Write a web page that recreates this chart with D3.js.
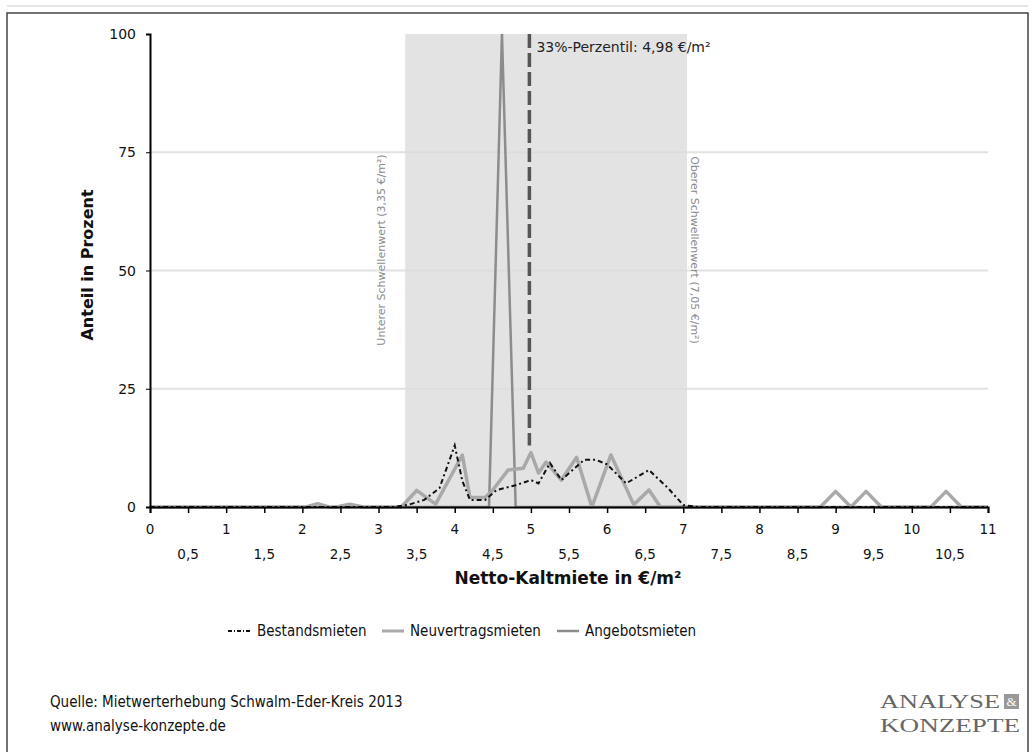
<!DOCTYPE html>
<html><head><meta charset="utf-8">
<script src="https://cdn.jsdelivr.net/npm/d3@7"></script>
<style>
body{margin:0;background:#fff;}
svg{display:block;font-family:"DejaVu Sans",Verdana,sans-serif;}
</style></head>
<body><svg id="c" width="1035" height="752"></svg>
<script>
// ---- data ----
const bestandX = [0, 3.2, 3.4, 3.6, 3.8, 3.9, 4.0, 4.1, 4.2, 4.4, 4.55, 4.8, 5.0, 5.1, 5.25, 5.4, 5.7, 5.85, 6.0, 6.25, 6.55, 6.8, 7.0, 7.2, 11];
const bestandY = [0, 0, 0.5, 1.5, 4, 8.5, 13, 5.5, 1.5, 1.5, 3.6, 4.6, 5.7, 5, 9.3, 5.7, 10, 10, 9, 5, 7.8, 4, 0.4, 0, 0];
const neuX = [0, 2.05, 2.2, 2.35, 2.45, 2.62, 2.8, 3.3, 3.5, 3.75, 4.1, 4.2, 4.4, 4.5, 4.7, 4.9, 5.0, 5.1, 5.2, 5.4, 5.6, 5.8, 6.05, 6.35, 6.55, 6.7, 8.8, 9.0, 9.2, 9.4, 9.6, 10.25, 10.45, 10.65, 11];
const neuY = [0, 0, 0.7, 0, 0, 0.6, 0, 0, 3.5, 0.6, 11, 2, 2, 3.6, 7.8, 8.2, 11.5, 7.2, 9.5, 5.7, 10.5, 0, 11, 0.5, 3.6, 0, 0, 3.3, 0, 3.3, 0, 0, 3.3, 0, 0];
const angebotX = [0, 4.45, 4.62, 4.8, 11];
const angebotY = [0, 0, 100, 0, 0];
const yTicks = [0, 25, 50, 75, 100];
const xTicks = [0,0.5,1,1.5,2,2.5,3,3.5,4,4.5,5,5.5,6,6.5,7,7.5,8,8.5,9,9.5,10,10.5,11];
const bandLow = 3.35, bandHigh = 7.05;
const percentile = 4.98, percentileEnd = 13;
const seriesNames = ["Bestandsmieten", "Neuvertragsmieten", "Angebotsmieten"];

// ---- chart ----
const svg = d3.select("#c");
const x = d3.scaleLinear().domain([0, 11]).range([150, 988]);
const y = d3.scaleLinear().domain([0, 100]).range([507, 34]);

// frame
svg.append("path").attr("d","M7,752 V13 H1028 V752").attr("fill","none").attr("stroke","#444").attr("stroke-width",1.5);
svg.append("line").attr("x1",7).attr("x2",1028).attr("y1",6).attr("y2",6).attr("stroke","#ccc").attr("stroke-width",1);

// gridlines
svg.append("g").selectAll("line").data(yTicks.filter(d=>d>0 && d<100)).join("line")
  .attr("x1", x(0)).attr("x2", x(11)).attr("y1", d=>y(d)).attr("y2", d=>y(d))
  .attr("stroke","#e2e2e2").attr("stroke-width",2);

// band
svg.append("rect").attr("x", x(bandLow)).attr("width", x(bandHigh)-x(bandLow))
  .attr("y", y(100)).attr("height", y(0)-y(100)).attr("fill","#dcdcdc").attr("opacity",0.8);

// band labels
svg.append("text").attr("transform",`translate(${x(bandLow)-20},250) rotate(-90)`)
  .attr("text-anchor","middle").attr("font-size",11).attr("fill","#8a8a8a")
  .text("Unterer Schwellenwert (3,35 €/m²)");
svg.append("text").attr("transform",`translate(${x(bandHigh)+4},250) rotate(90)`)
  .attr("text-anchor","middle").attr("font-size",11).attr("fill","#8a8a8a")
  .text("Oberer Schwellenwert (7,05 €/m²)");

// series
const line = d3.line().x(d=>x(d[0])).y(d=>y(d[1]));
const zip = (a,b)=>a.map((v,i)=>[v,b[i]]);
svg.append("path").datum(zip(angebotX, angebotY)).attr("d", line)
  .attr("fill","none").attr("stroke","#8c8c8c").attr("stroke-width",2.5);
svg.append("path").datum(zip(neuX, neuY)).attr("d", line)
  .attr("fill","none").attr("stroke","#a9a9a9").attr("stroke-width",3.5).attr("stroke-linejoin","round");
svg.append("path").datum(zip(bestandX, bestandY)).attr("d", line)
  .attr("fill","none").attr("stroke","#111").attr("stroke-width",2).attr("stroke-dasharray","5,3,2,3");

// percentile line
svg.append("line").attr("x1",x(percentile)).attr("x2",x(percentile))
  .attr("y1",y(100)).attr("y2",y(percentileEnd))
  .attr("stroke","#555").attr("stroke-width",3.5).attr("stroke-dasharray","14,5");
svg.append("text").attr("x",x(percentile)+7).attr("y",y(100)+18).attr("font-size",14).attr("fill","#222")
  .text("33%-Perzentil: 4,98 €/m²");

// axes
const gx = svg.append("g").attr("transform",`translate(0,${y(0)})`)
  .call(d3.axisBottom(x).tickValues(xTicks).tickSize(6).tickFormat(""));
gx.select(".domain").attr("stroke","#000").attr("stroke-width",2);
gx.selectAll("line").attr("stroke","#000").attr("stroke-width",1.5);
svg.append("g").selectAll("text").data(xTicks).join("text")
  .attr("x", d=>x(d)).attr("y", d=> Number.isInteger(d) ? 534 : 559)
  .attr("text-anchor","middle").attr("font-size",13.5).attr("fill","#111")
  .text(d=>String(d).replace(".",","));

const gy = svg.append("g").attr("transform",`translate(${x(0)},0)`)
  .call(d3.axisLeft(y).tickValues(yTicks).tickSize(4).tickFormat(""));
gy.select(".domain").attr("stroke","#000").attr("stroke-width",2);
gy.selectAll("line").attr("stroke","#000");
svg.append("g").selectAll("text").data(yTicks).join("text")
  .attr("x", 136).attr("y", d=>y(d)+5).attr("text-anchor","end").attr("font-size",14).attr("fill","#111")
  .text(d=>d);

svg.append("text").attr("transform","translate(93,265) rotate(-90)").attr("text-anchor","middle")
  .attr("font-size",16).attr("font-weight","bold").attr("fill","#111").text("Anteil in Prozent");
svg.append("text").attr("x",568).attr("y",584).attr("text-anchor","middle")
  .attr("font-size",17).attr("font-weight","bold").attr("fill","#111").text("Netto-Kaltmiete in €/m²");

// legend
const leg = [
  {name: seriesNames[0], x0: 228, tx: 257, stroke:"#111", w:2, dash:"4,2,1,2"},
  {name: seriesNames[1], x0: 382, tx: 410, stroke:"#a9a9a9", w:3, dash:null},
  {name: seriesNames[2], x0: 557, tx: 585, stroke:"#8c8c8c", w:2.5, dash:null}
];
const lg = svg.append("g");
leg.forEach(l=>{
  lg.append("line").attr("x1",l.x0).attr("x2",l.x0+22).attr("y1",631).attr("y2",631)
    .attr("stroke",l.stroke).attr("stroke-width",l.w).attr("stroke-dasharray",l.dash);
  lg.append("text").attr("x",l.tx).attr("y",636).attr("font-size",15).attr("fill","#111")
    .attr("font-family","DejaVu Sans Condensed, DejaVu Sans, sans-serif").text(l.name);
});

// footer
svg.append("text").attr("x",50).attr("y",707).attr("font-size",15).attr("fill","#111")
  .attr("font-family","DejaVu Sans Condensed, DejaVu Sans, sans-serif")
  .text("Quelle: Mietwerterhebung Schwalm-Eder-Kreis 2013");
svg.append("text").attr("x",50).attr("y",731).attr("font-size",15).attr("fill","#111")
  .attr("font-family","DejaVu Sans Condensed, DejaVu Sans, sans-serif")
  .text("www.analyse-konzepte.de");
// logo
svg.append("text").attr("x",880).attr("y",708).attr("font-family","Liberation Serif, serif").attr("font-size",19)
  .attr("textLength",120).attr("lengthAdjust","spacingAndGlyphs").attr("fill","#666").text("ANALYSE");
svg.append("rect").attr("x",1004).attr("y",694).attr("width",15).attr("height",15).attr("fill","#999");
svg.append("text").attr("x",1011.5).attr("y",706).attr("text-anchor","middle").attr("font-family","Liberation Serif, serif")
  .attr("font-size",13).attr("fill","#fff").text("&");
svg.append("text").attr("x",880).attr("y",732).attr("font-family","Liberation Serif, serif").attr("font-size",19)
  .attr("textLength",140).attr("lengthAdjust","spacingAndGlyphs").attr("fill","#666").text("KONZEPTE");
</script></body></html>
